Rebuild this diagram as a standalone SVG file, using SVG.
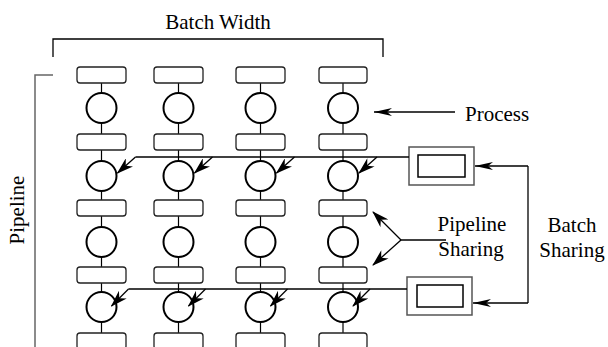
<svg xmlns="http://www.w3.org/2000/svg" width="608" height="347" viewBox="0 0 608 347">
  <style>
    .lbl { font-family: "Liberation Serif", "Times New Roman", serif; font-size: 21px; fill: #000; }
    .stage { fill: #fff; stroke: #222; stroke-width: 1.3; }
    .proc { fill: #fff; stroke: #000; stroke-width: 2; }
    .wire { fill: none; stroke: #000; stroke-width: 1.3; }
    .thin { fill: none; stroke: #000; stroke-width: 1.2; }
    .outer { fill: #fff; stroke: #555; stroke-width: 1.5; }
    .inner { fill: #fff; stroke: #000; stroke-width: 1.5; }
  </style>
  <defs>
    <marker id="barb" markerUnits="userSpaceOnUse" viewBox="0 0 17 11" refX="16" refY="5.5" markerWidth="17" markerHeight="11" orient="auto">
      <path d="M0,0 L17,5.5 L0,11 L5,5.5 Z" fill="#000"/>
    </marker>
    <marker id="barbLong" markerUnits="userSpaceOnUse" viewBox="0 0 18 8" refX="18" refY="4" markerWidth="18" markerHeight="8" orient="auto">
      <path d="M0,0 L18,4 L0,8 L5,4 Z" fill="#000"/>
    </marker>
  </defs>

  <!-- brackets and their labels -->
  <g id="batch-width">
    <path class="wire" d="M53,57 V39 H383 V57" stroke-width="1.5"/>
    <text class="lbl" x="218" y="29" text-anchor="middle">Batch Width</text>
  </g>
  <g id="pipeline">
    <path d="M53,75 H35 V347" fill="none" stroke="#666" stroke-width="1.5"/>
    <text class="lbl" transform="translate(24,210) rotate(-90)" text-anchor="middle">Pipeline</text>
  </g>

  <!-- column spines behind the stages -->
  <g id="spines" class="thin">
    <path d="M101.5,83 V347"/>
    <path d="M178.5,83 V347"/>
    <path d="M260.5,83 V347"/>
    <path d="M343,83 V347"/>
  </g>

  <!-- column 1 -->
  <g id="col1">
    <rect id="s1-0" class="stage" x="77" y="67" width="49" height="16" rx="3"/>
    <circle id="p1-1" class="proc" cx="101.5" cy="108" r="15"/>
    <rect id="s1-1" class="stage" x="77" y="134" width="49" height="16" rx="3"/>
    <circle id="p1-2" class="proc" cx="101.5" cy="176" r="15"/>
    <rect id="s1-2" class="stage" x="77" y="200" width="49" height="16" rx="3"/>
    <circle id="p1-3" class="proc" cx="101.5" cy="242" r="15"/>
    <rect id="s1-3" class="stage" x="77" y="267" width="49" height="16" rx="3"/>
    <circle id="p1-4" class="proc" cx="101.5" cy="307" r="15"/>
    <rect id="s1-4" class="stage" x="77" y="333" width="49" height="16" rx="3"/>
  </g>
  <!-- column 2 -->
  <g id="col2">
    <rect id="s2-0" class="stage" x="154" y="67" width="49" height="16" rx="3"/>
    <circle id="p2-1" class="proc" cx="178.5" cy="108" r="15"/>
    <rect id="s2-1" class="stage" x="154" y="134" width="49" height="16" rx="3"/>
    <circle id="p2-2" class="proc" cx="178.5" cy="176" r="15"/>
    <rect id="s2-2" class="stage" x="154" y="200" width="49" height="16" rx="3"/>
    <circle id="p2-3" class="proc" cx="178.5" cy="242" r="15"/>
    <rect id="s2-3" class="stage" x="154" y="267" width="49" height="16" rx="3"/>
    <circle id="p2-4" class="proc" cx="178.5" cy="307" r="15"/>
    <rect id="s2-4" class="stage" x="154" y="333" width="49" height="16" rx="3"/>
  </g>
  <!-- column 3 -->
  <g id="col3">
    <rect id="s3-0" class="stage" x="236" y="67" width="49" height="16" rx="3"/>
    <circle id="p3-1" class="proc" cx="260.5" cy="108" r="15"/>
    <rect id="s3-1" class="stage" x="236" y="134" width="49" height="16" rx="3"/>
    <circle id="p3-2" class="proc" cx="260.5" cy="176" r="15"/>
    <rect id="s3-2" class="stage" x="236" y="200" width="49" height="16" rx="3"/>
    <circle id="p3-3" class="proc" cx="260.5" cy="242" r="15"/>
    <rect id="s3-3" class="stage" x="236" y="267" width="49" height="16" rx="3"/>
    <circle id="p3-4" class="proc" cx="260.5" cy="307" r="15"/>
    <rect id="s3-4" class="stage" x="236" y="333" width="49" height="16" rx="3"/>
  </g>
  <!-- column 4 -->
  <g id="col4">
    <rect id="s4-0" class="stage" x="319" y="67" width="48" height="16" rx="3"/>
    <circle id="p4-1" class="proc" cx="343" cy="108" r="15"/>
    <rect id="s4-1" class="stage" x="319" y="134" width="48" height="16" rx="3"/>
    <circle id="p4-2" class="proc" cx="343" cy="176" r="15"/>
    <rect id="s4-2" class="stage" x="319" y="200" width="48" height="16" rx="3"/>
    <circle id="p4-3" class="proc" cx="343" cy="242" r="15"/>
    <rect id="s4-3" class="stage" x="319" y="267" width="48" height="16" rx="3"/>
    <circle id="p4-4" class="proc" cx="343" cy="307" r="15"/>
    <rect id="s4-4" class="stage" x="319" y="333" width="48" height="16" rx="3"/>
  </g>

  <!-- shared model boxes -->
  <g id="shared-upper">
    <rect class="outer" x="409" y="147" width="65" height="38"/>
    <rect class="inner" x="418" y="155" width="47" height="22"/>
  </g>
  <g id="shared-lower">
    <rect class="outer" x="407" y="277" width="65" height="38"/>
    <rect class="inner" x="417" y="285" width="46" height="22"/>
  </g>

  <!-- labels -->
  <g id="process-label">
    <text class="lbl" x="465" y="121">Process</text>
  </g>
  <g id="pipeline-sharing-label">
    <text class="lbl" x="472" y="231" text-anchor="middle">Pipeline</text>
    <text class="lbl" x="471" y="256" text-anchor="middle">Sharing</text>
  </g>
  <g id="batch-sharing-label">
    <text class="lbl" x="572" y="232" text-anchor="middle">Batch</text>
    <text class="lbl" x="572" y="257" text-anchor="middle">Sharing</text>
  </g>

  <!-- connectors -->
  <g id="connectors">
    <path class="wire" d="M455,112 H374" marker-end="url(#barbLong)"/>

    <path class="wire" d="M409,157 H135.5"/>
    <path class="wire" d="M135.5,157 L117.5,173" marker-end="url(#barb)"/>
    <path class="wire" d="M212.5,157 L194.5,173" marker-end="url(#barb)"/>
    <path class="wire" d="M294.5,157 L276.5,173" marker-end="url(#barb)"/>
    <path class="wire" d="M377,157 L359,173" marker-end="url(#barb)"/>

    <path class="wire" d="M407,289 H128.5" stroke="#444"/>
    <path class="wire" d="M128.5,289 L111.5,306" marker-end="url(#barb)"/>
    <path class="wire" d="M205.5,289 L188.5,306" marker-end="url(#barb)"/>
    <path class="wire" d="M287.5,289 L270.5,306" marker-end="url(#barb)"/>
    <path class="wire" d="M370,289 L353,306" marker-end="url(#barb)"/>

    <path class="wire" d="M446,240 H401"/>
    <path class="wire" d="M401,240 L373,212" marker-end="url(#barb)"/>
    <path class="wire" d="M401,240 L373,265" marker-end="url(#barb)"/>

    <path class="wire" d="M528,166 V303"/>
    <path class="wire" d="M528,166 H475" marker-end="url(#barbLong)"/>
    <path class="wire" d="M528,303 H473" marker-end="url(#barbLong)"/>
  </g>
</svg>
